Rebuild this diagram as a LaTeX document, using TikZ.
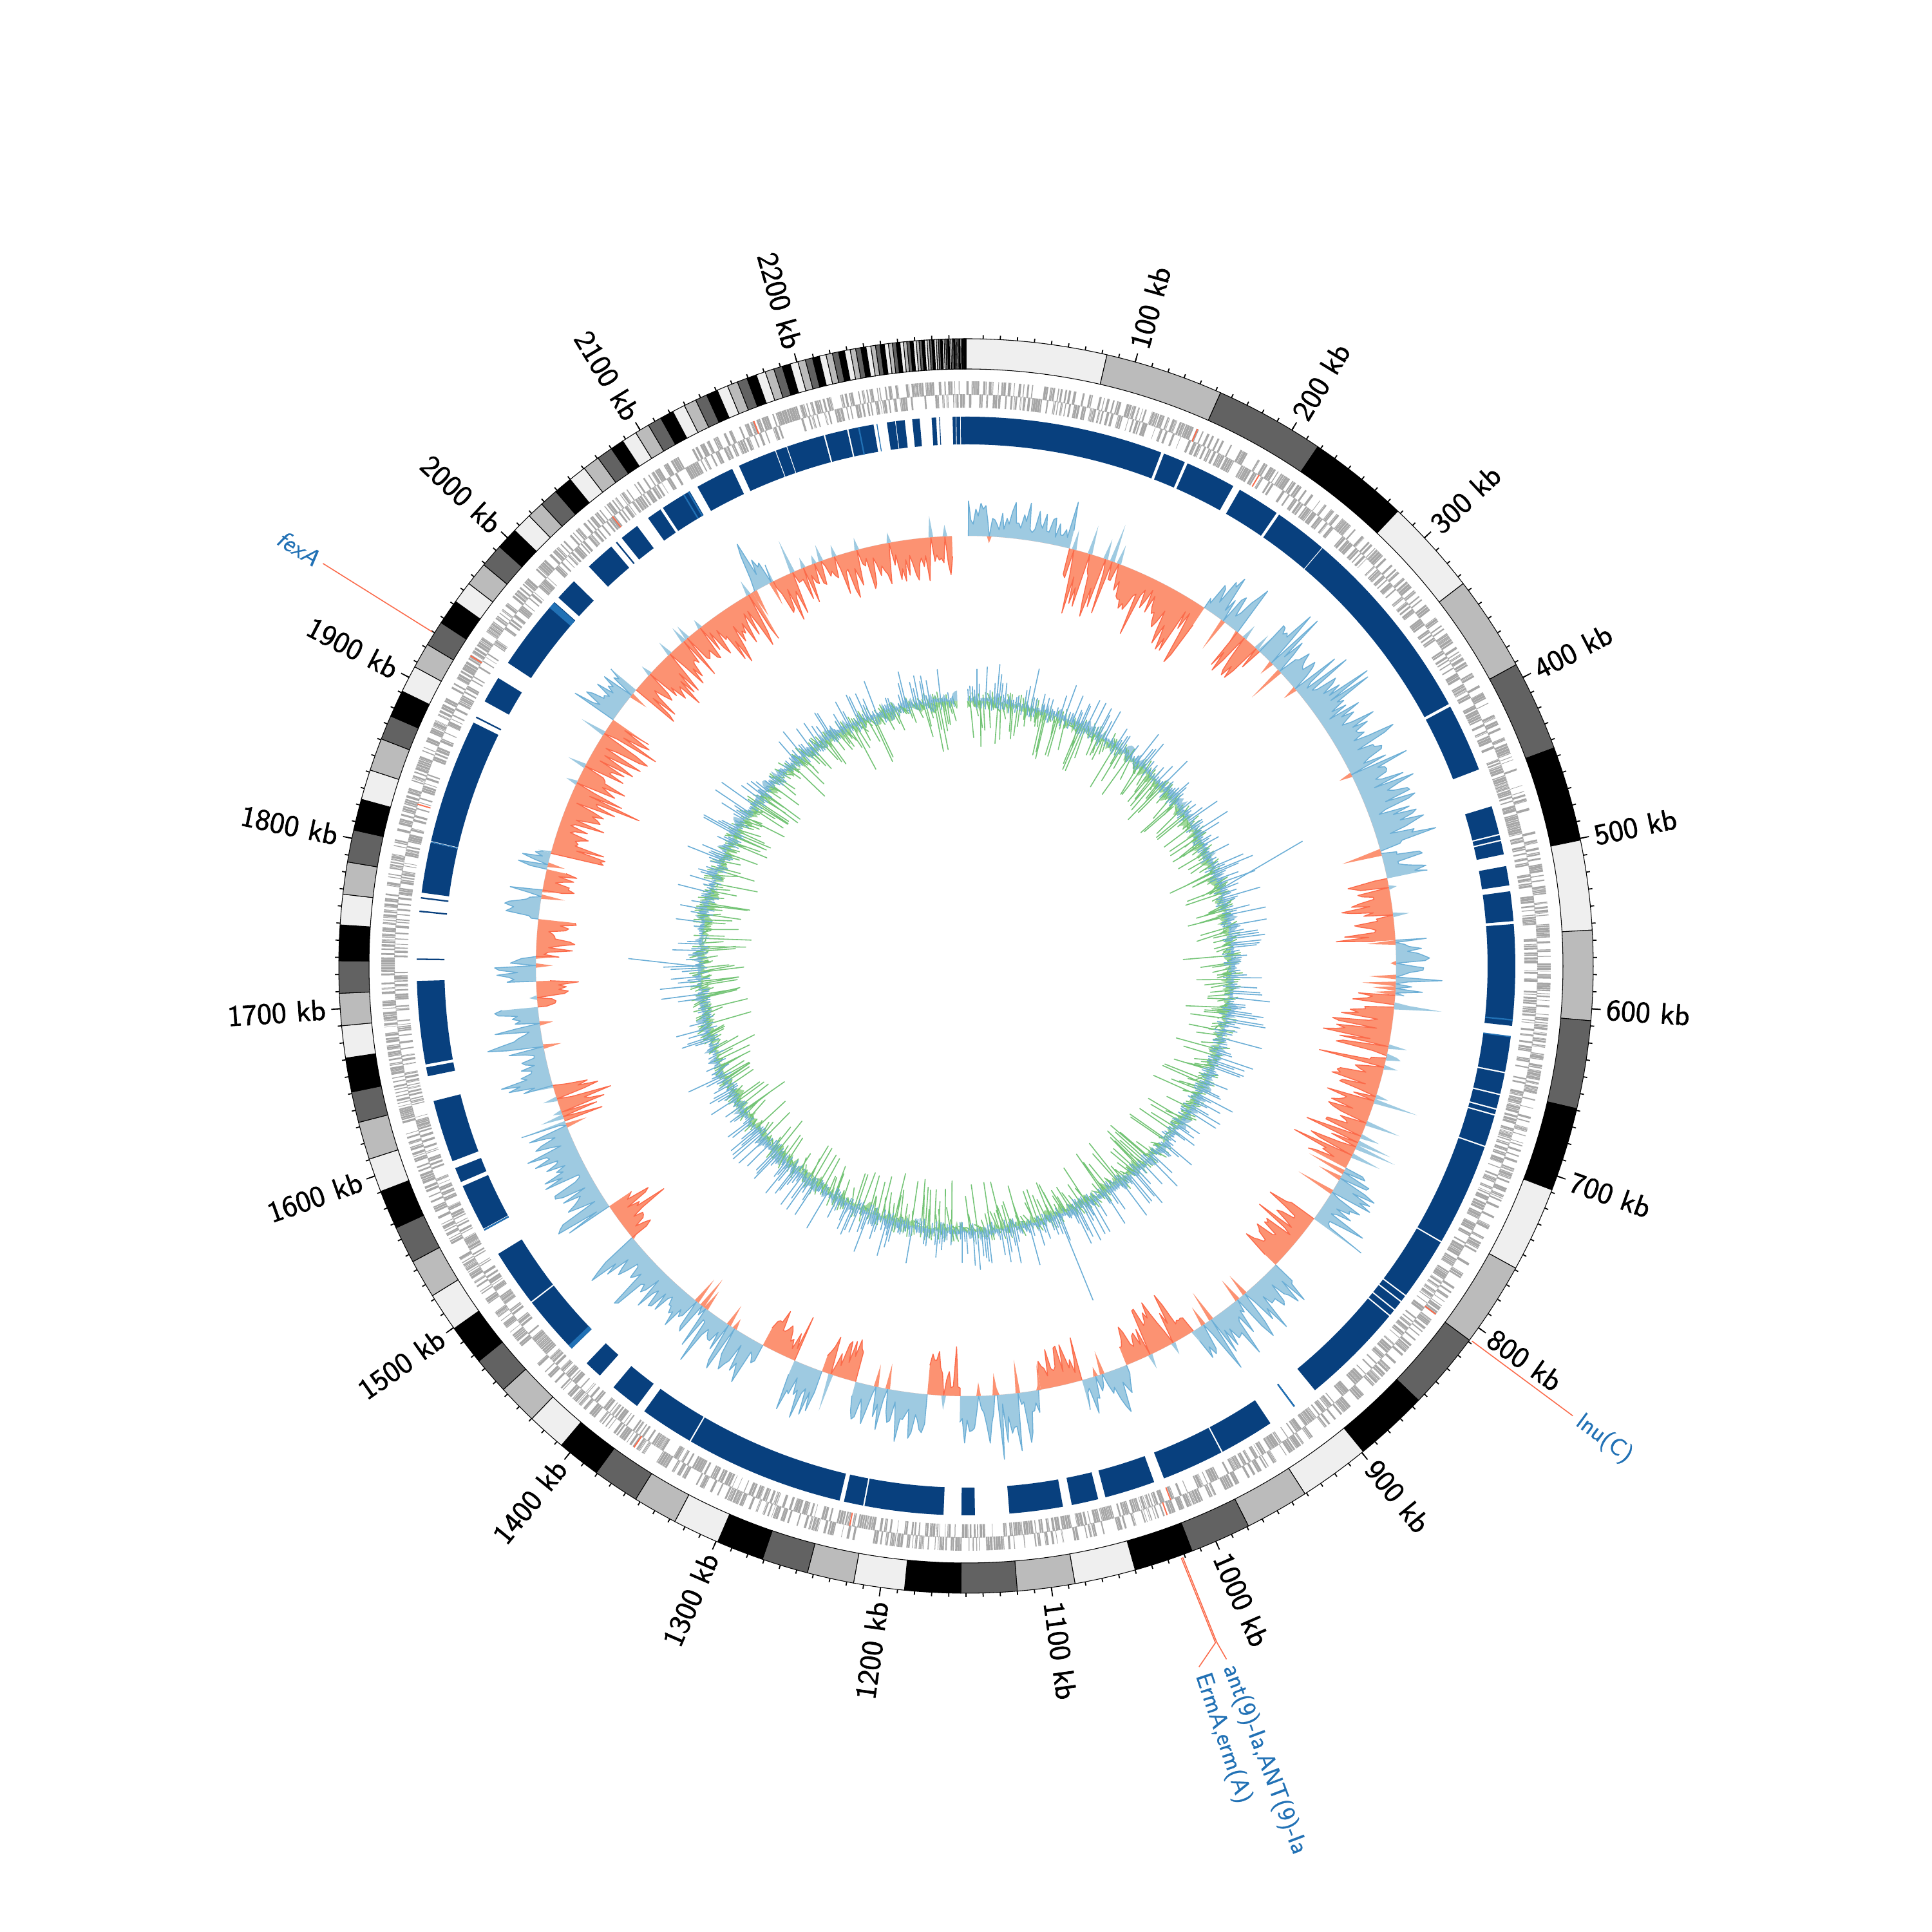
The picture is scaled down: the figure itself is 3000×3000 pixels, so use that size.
\documentclass[tikz,border=0pt]{standalone}
\usepackage{fontspec}
\newfontfamily\tickfont{lmsans10-regular.otf}[FakeBold=1.5]
\newfontfamily\labfont{lmsans10-regular.otf}[FakeBold=0.8]
\newfontfamily\labfontit{lmsans10-oblique.otf}[FakeBold=0.8]
\definecolor{band0}{HTML}{EFEFEF}
\definecolor{band1}{HTML}{BBBBBB}
\definecolor{band2}{HTML}{626262}
\definecolor{band3}{HTML}{000000}
\definecolor{trackblue}{HTML}{08407E}
\definecolor{stripeblue}{HTML}{2171B5}
\definecolor{genegray}{HTML}{A6A6A6}
\definecolor{argred}{HTML}{FB6A4A}
\definecolor{skewposfill}{HTML}{9ECAE1}
\definecolor{skewposline}{HTML}{6BAED6}
\definecolor{skewnegfill}{HTML}{FC9272}
\definecolor{skewnegline}{HTML}{FB6A4A}
\definecolor{gcgreenfill}{HTML}{A1D99B}
\definecolor{gcgreenline}{HTML}{74C476}
\definecolor{labelblue}{HTML}{2171B5}
\def\kd{0.15652174}
\newcommand\ringseg[5]{%
  \pgfmathsetmacro\aA{90-(#1)*\kd}%
  \pgfmathsetmacro\aB{90-(#2)*\kd}%
  \path[#5] (\aA:#3) arc[start angle=\aA,end angle=\aB,radius=#3] -- (\aB:#4) arc[start angle=\aB,end angle=\aA,radius=#4] -- cycle;}
\newcommand\skewseg[5]{%
  \pgfmathtruncatemacro\nW{max(2,round((#2-#1)/2))}%
  \pgfmathsetmacro\stW{(#2-#1)/\nW}%
  \pgfmathsetmacro\aS{90-(#1)*\kd}%
  \pgfmathsetmacro\aE{90-(#2)*\kd}%
  \ifnum#3>0\relax\def\domF{posfill}\def\domL{posline}\def\oppF{negfill}\else\def\domF{negfill}\def\domL{negline}\def\oppF{posfill}\fi
  \pgfmathsetseed{#5}%
  \fill[\domF] (\aS:668) \foreach \kk [evaluate=\kk as \vv using {#4*(0.25+0.75*rnd)*(0.4+0.6*rnd)*((rnd<0.1)?-0.7:1)}] in {0,...,\nW} { -- ({90-(#1+\kk*\stW)*\kd}:{668+(#3)*max(0,\vv)}) } -- (\aE:668) arc[start angle=\aE,end angle=\aS,radius=668] -- cycle;
  \pgfmathsetseed{#5}%
  \draw[\domL] (\aS:668) \foreach \kk [evaluate=\kk as \vv using {#4*(0.25+0.75*rnd)*(0.4+0.6*rnd)*((rnd<0.1)?-0.7:1)}] in {0,...,\nW} { -- ({90-(#1+\kk*\stW)*\kd}:{668+(#3)*max(0,\vv)}) };
  \pgfmathsetseed{#5}%
  \fill[\oppF] (\aS:668) \foreach \kk [evaluate=\kk as \vv using {#4*(0.25+0.75*rnd)*(0.4+0.6*rnd)*((rnd<0.1)?-0.7:1)}] in {0,...,\nW} { -- ({90-(#1+\kk*\stW)*\kd}:{668-(#3)*max(0,-\vv)}) } -- (\aE:668) arc[start angle=\aE,end angle=\aS,radius=668] -- cycle;
}
\begin{document}
\begin{tikzpicture}[x=0.1mm,y=0.1mm,
  tickmark/.style={draw=black,line width=0.5pt},
  ticklab/.style={font=\tickfont\fontsize{13pt}{15pt}\selectfont,inner sep=0pt},
  genelab/.style={font=\labfont\fontsize{10.5pt}{12pt}\selectfont,text=labelblue,inner sep=0pt},
  argline/.style={draw=argred,line width=0.45pt},
  bandbox/.style={draw=black,line width=0.3pt},
  genebox/.style={fill=genegray},
  argbox/.style={fill=argred},
  blockbox/.style={fill=trackblue},
  stripebox/.style={fill=stripeblue},
  posfill/.style={fill=skewposfill},
  posline/.style={draw=skewposline,line width=0.4pt,line join=round},
  negfill/.style={fill=skewnegfill},
  negline/.style={draw=skewnegline,line width=0.4pt,line join=round},
  gcbfill/.style={fill=skewposfill},
  gcbline/.style={draw=skewposline,line width=0.45pt,line cap=round},
  gcgfill/.style={fill=gcgreenfill},
  gcgline/.style={draw=gcgreenline,line width=0.45pt,line cap=round}]
\fill[white] (-1500,-1500) rectangle (1500,1500);
\useasboundingbox (-1500,-1500) rectangle (1500,1500);

% ---------- karyotype ring ----------
\foreach \sS/\eE [count=\ii from 0] in {0/83,83/153,153/218,218/278,278/335,335/391.6,391.6/445,445/501,501/554,554/607,607/659,659/708.6,708.6/759,759/809,809/855,855/899,899/941,941/979,979/1015,1015/1050,1050/1086,1086/1120,1120/1153,1153/1186,1186/1216,1216/1243.6,1243.6/1271,1271/1299,1299/1326.7,1326.7/1353,1353/1380.7,1380.7/1406.6,1406.6/1429.8,1429.8/1453.6,1453.6/1475.5,1475.5/1499.4,1499.4/1522.4,1522.4/1545.3,1545.3/1567.3,1567.3/1590.4,1590.4/1610.4,1610.4/1632.7,1632.7/1650.9,1650.9/1671,1671/1690,1690/1709,1709/1728,1728/1749,1749/1767,1767/1786,1786/1805,1805/1823.5,1823.5/1841.3,1841.3/1860.6,1860.6/1875,1875/1891,1891/1907,1907/1922,1922/1937,1937/1952,1952/1965,1965/1979,1979/1993,1993/2006,2006/2018,2018/2028,2028/2039,2039/2050,2050/2060.5,2060.5/2070.5,2070.5/2080,2080/2088}
  {\pgfmathtruncatemacro\bc{mod(\ii,4)}\ringseg{\sS}{\eE}{927}{974}{bandbox,fill=band\bc}}
\def\bP{2088}\def\bW{9}\def\bI{0}
\loop
  \pgfmathsetmacro\bE{min(\bP+\bW,2300)}%
  \pgfmathtruncatemacro\bc{mod(\bI,4)}%
  \ringseg{\bP}{\bE}{927}{974}{bandbox,fill=band\bc}%
  \pgfmathsetmacro\bP{\bE}%
  \pgfmathsetmacro\bW{\bW*0.96}%
  \pgfmathtruncatemacro\bI{\bI+1}%
\ifdim\bP pt<2299.95pt\repeat

% ---------- ticks and labels ----------
\foreach \pp in {10,20,...,2290} {\pgfmathsetmacro\aT{90-\pp*\kd}\draw[tickmark] (\aT:974) -- (\aT:980);}
\foreach \pp in {100,200,...,2200} {
  \pgfmathsetmacro\aT{90-\pp*\kd}
  \draw[tickmark] (\aT:974) -- (\aT:988);
  \ifnum\pp<1150
    \node[ticklab,anchor=west,rotate=\aT] (tl\pp) at (\aT:996) {\pp\ kb};
  \else
    \pgfmathsetmacro\aR{\aT+180}
    \node[ticklab,anchor=east,rotate=\aR] (tl\pp) at (\aT:996) {\pp\ kb};
  \fi
}

% ---------- genes ----------
\pgfmathsetseed{17}
\def\gP{0.3}
\loop
  \pgfmathsetmacro\gL{0.25+1.35*rnd}%
  \pgfmathsetmacro\gE{min(\gP+\gL,2299.8)}%
  \pgfmathsetmacro\gS{rnd}%
  \ifdim\gS pt<0.5pt
    \ringseg{\gP}{\gE}{887}{908}{genebox}%
  \else
    \ringseg{\gP}{\gE}{867}{888}{genebox}%
  \fi
  \pgfmathsetmacro\gP{\gE+0.06+0.3*rnd}%
\ifdim\gP pt<2299pt\repeat
\foreach \pp/\ra/\rb in {149/887/908,197/867/888,808.5/887/908,1016/867/888,1021.4/887/908,1225/867/888,1371/887/908,1830/867/888,1929.7/887/908,2056/867/888,2164/887/908}
  {\ringseg{\pp-0.4}{\pp+0.4}{\ra}{\rb}{argbox}}

% ---------- blue block track ----------
\foreach \sS/\eE in {0/133,135/150,152/186,191/220,222/258,258.6/393,395/441,467/486,487/490,491/500,508/521,525/545,547/615,622/646,647/661,662/671,672/675,676/697,698/767,768/810,811/815,816/822,823/827,828/898,915/916,935/972,973/1015,1022/1056,1061/1079,1085/1121,1144/1153,1165/1218,1219/1232,1235/1342,1343/1379,1385/1405,1417/1429,1443/1483.5,1484.5/1523,1541/1542,1542.5/1574,1577/1587,1592/1634,1651/1657,1659/1715,1729/1730,1761/1762,1770/1771,1774/1808,1809/1893,1896.5/1897.5,1909/1927,1939/1990,1994/2009,2023/2043,2047/2048,2052/2065,2074/2084,2086/2107,2113/2139,2144/2170,2170.6/2178,2178.6/2204,2205/2220,2221/2238,2247/2252.5,2253/2259,2264/2269,2277/2280,2282/2282.5,2291/2293,2293.5/2296,2296.5/2300}
  {\ringseg{\sS}{\eE}{810}{853}{blockbox}}
\foreach \sS/\eE in {610.5/611.5,621.8/622.6,1443/1446,1541/1542,1985/1989.5,2102/2103,2105.5/2106.5,2227.5/2228.5,2240/2240.6,1808/1808.6,915/916}
  {\ringseg{\sS}{\eE}{810}{853}{stripebox}}

% ---------- GC skew track ----------
\skewseg{2}{89}{1}{75}{11}
\skewseg{89}{215}{-1}{120}{12}
\skewseg{215}{250}{1}{85}{13}
\skewseg{250}{275}{-1}{100}{14}
\skewseg{275}{500}{1}{110}{15}
\skewseg{500}{553}{-1}{105}{16}
\skewseg{553}{600}{1}{90}{17}
\skewseg{600}{754}{-1}{130}{18}
\skewseg{754}{805}{1}{95}{19}
\skewseg{805}{856}{-1}{105}{20}
\skewseg{856}{946}{1}{100}{21}
\skewseg{946}{1010}{-1}{110}{22}
\skewseg{1010}{1050}{1}{85}{23}
\skewseg{1050}{1086}{-1}{95}{24}
\skewseg{1086}{1155}{1}{105}{25}
\skewseg{1155}{1183}{-1}{85}{26}
\skewseg{1183}{1245}{1}{105}{27}
\skewseg{1245}{1275}{-1}{95}{28}
\skewseg{1275}{1300}{1}{100}{29}
\skewseg{1300}{1330}{-1}{85}{30}
\skewseg{1330}{1475}{1}{100}{31}
\skewseg{1475}{1508}{-1}{90}{32}
\skewseg{1508}{1590}{1}{100}{33}
\skewseg{1590}{1622}{-1}{100}{34}
\skewseg{1622}{1690}{1}{100}{35}
\skewseg{1690}{1712}{-1}{80}{36}
\skewseg{1712}{1733}{1}{85}{37}
\skewseg{1733}{1765}{-1}{85}{38}
\skewseg{1765}{1790}{1}{75}{39}
\skewseg{1790}{1808}{-1}{75}{40}
\skewseg{1808}{1822}{1}{75}{41}
\skewseg{1822}{1948}{-1}{115}{42}
\skewseg{1948}{1980}{1}{85}{43}
\skewseg{1980}{2110}{-1}{110}{44}
\skewseg{2110}{2130}{1}{90}{45}
\skewseg{2130}{2288}{-1}{85}{46}

% ---------- inner GC content track ----------
\pgfmathsetmacro\aI{90-2*\kd}
\pgfmathsetmacro\aJ{90-2288*\kd}
\pgfmathsetseed{501}
\fill[gcgfill] (\aI:412) \foreach \kk [evaluate=\kk as \vv using {1+16*rnd^2}] in {0,...,762} { -- ({90-(2+\kk*3)*\kd}:{412-\vv}) } -- (\aJ:412) arc[start angle=\aJ,end angle=\aI,radius=412] -- cycle;
\pgfmathsetseed{502}
\fill[gcbfill] (\aI:412) \foreach \kk [evaluate=\kk as \vv using {1+16*rnd^2}] in {0,...,762} { -- ({90-(2+\kk*3)*\kd}:{412+\vv}) } -- (\aJ:412) arc[start angle=\aJ,end angle=\aI,radius=412] -- cycle;
\pgfmathsetseed{503}
\draw[gcgline] (\aI:412) \foreach \kk [evaluate=\kk as \pa using {2+\kk*3}, evaluate=\kk as \ua using {406+24*rnd}, evaluate=\kk as \pb using {\pa+3+6*rnd}, evaluate=\kk as \ub using {412-(6+72*rnd^2.5)}] in {0,...,760} { ({90-\pa*\kd}:\ua) -- ({90-\pb*\kd}:\ub) };
\pgfmathsetseed{504}
\draw[gcbline] (\aI:412) \foreach \kk [evaluate=\kk as \pa using {3.5+\kk*3}, evaluate=\kk as \ua using {398+16*rnd}, evaluate=\kk as \pb using {\pa-0.5-1.5*rnd}, evaluate=\kk as \ub using {412+(4+62*rnd^2.7)}] in {0,...,760} { ({90-\pa*\kd}:\ua) -- ({90-\pb*\kd}:\ub) };
\foreach \ba/\tp/\tr in {468/445/557,1724/1733/524,1020/1017/555}
  {\draw[gcbline] ({90-\ba*\kd}:412) -- ({90-\tp*\kd}:\tr);}

% ---------- gene labels ----------
\pgfmathsetmacro\aF{90-1929.7*\kd}\pgfmathsetmacro\aFr{\aF+180}
\coordinate (fxa0) at (\aF:978);
\coordinate (fxa1) at (\aF:1178);
\node[genelab,anchor=east,rotate=\aFr,font=\labfontit\fontsize{10.5pt}{12pt}\selectfont] (fexA) at (\aF:1188) {fexA};
\draw[argline] (fxa0) -- (fxa1);

\pgfmathsetmacro\aL{90-808.5*\kd}
\coordinate (lnu0) at (\aL:978);
\coordinate (lnu1) at (\aL:1173);
\node[genelab,anchor=west,rotate=\aL] (lnuC) at (\aL:1183) {lnu(C)};
\draw[argline] (lnu0) -- (lnu1);

\pgfmathsetmacro\aN{90-1018.4*\kd}
\coordinate (ant0) at ({90-1021.4*\kd}:978);
\coordinate (ant1) at ({90-1020*\kd}:1120);
\coordinate (ant2) at (\aN:1150);
\node[genelab,anchor=west,rotate=\aN] (antlab) at (\aN:1160) {ant(9)-Ia,ANT(9)-Ia};
\draw[argline] (ant0) -- (ant1) -- (ant2);

\pgfmathsetmacro\aM{90-1032.5*\kd}
\coordinate (erm0) at ({90-1022.3*\kd}:978);
\coordinate (erm1) at ({90-1020.7*\kd}:1120);
\coordinate (erm2) at (\aM:1147);
\node[genelab,anchor=west,rotate=\aM] (ermlab) at (\aM:1158) {ErmA,erm(A)};
\draw[argline] (erm0) -- (erm1) -- (erm2);
\end{tikzpicture}
\end{document}
